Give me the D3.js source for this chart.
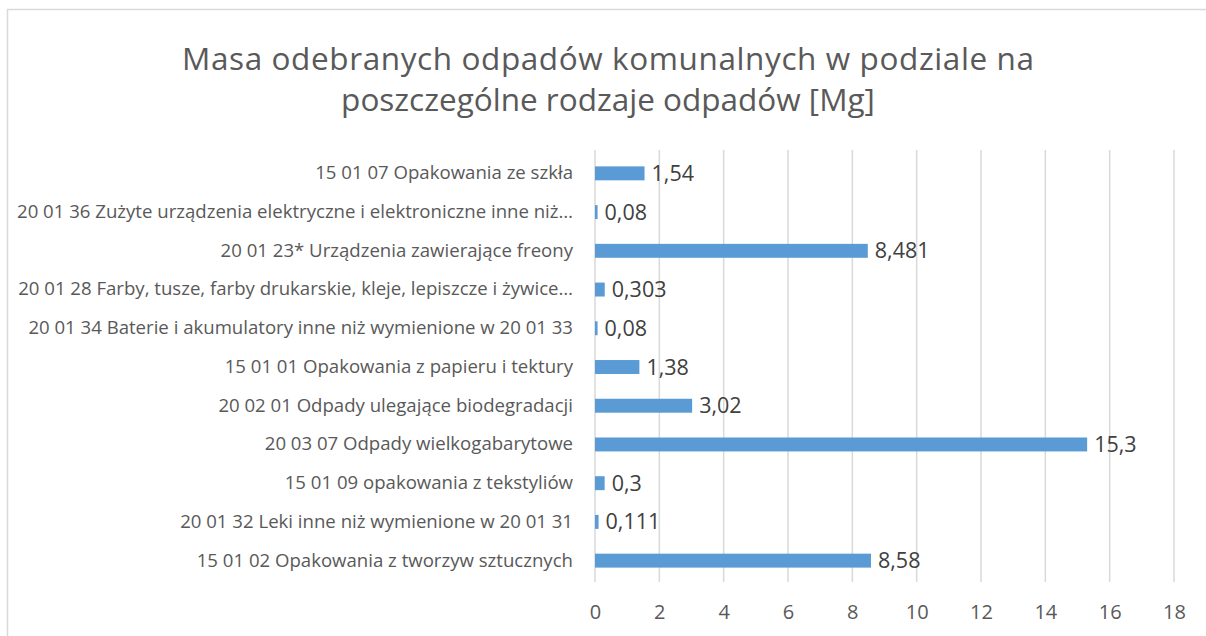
<!DOCTYPE html>
<html>
<head>
<meta charset="utf-8">
<script src="https://cdn.jsdelivr.net/npm/d3@7"></script>
<style>
  html, body { margin: 0; padding: 0; background: #fff; }
  svg { display: block; }
  text { font-family: "Open Sans", "Noto Sans", sans-serif; }
</style>
</head>
<body>
<div id="chart"></div>
<script>
// Chart data (top to bottom as shown)
const categories = [
    '15 01 07 Opakowania ze szkła',
    '20 01 36 Zużyte urządzenia elektryczne i elektroniczne inne niż…',
    '20 01 23* Urządzenia zawierające freony',
    '20 01 28 Farby, tusze, farby drukarskie, kleje, lepiszcze i żywice…',
    '20 01 34 Baterie i akumulatory inne niż wymienione w 20 01 33',
    '15 01 01 Opakowania z papieru i tektury',
    '20 02 01 Odpady ulegające biodegradacji',
    '20 03 07 Odpady wielkogabarytowe',
    '15 01 09 opakowania z tekstyliów',
    '20 01 32 Leki inne niż wymienione w 20 01 31',
    '15 01 02 Opakowania z tworzyw sztucznych'
];
const values = [1.54, 0.08, 8.481, 0.303, 0.08, 1.38, 3.02, 15.3, 0.3, 0.111, 8.58];
const valueLabels = ['1,54', '0,08', '8,481', '0,303', '0,08', '1,38', '3,02', '15,3', '0,3', '0,111', '8,58'];
const xTicks = [0, 2, 4, 6, 8, 10, 12, 14, 16, 18];
const titleLines = [
    'Masa odebranych odpadów komunalnych w podziale na',
    'poszczególne rodzaje odpadów [Mg]'
];

(function () {
    'use strict';

    const W = 1206, H = 636;
    const margin = { left: 595, right: 32, top: 154, bottom: 56 };

    const svg = d3.select('#chart').append('svg')
        .attr('width', W)
        .attr('height', H);

    // Chart frame
    svg.append('rect')
        .attr('x', 7.5).attr('y', 9.5)
        .attr('width', 1210).attr('height', 650)
        .attr('fill', '#fff')
        .attr('stroke', '#d9d9d9')
        .attr('stroke-width', 1.5);

    // Title
    svg.append('g')
        .selectAll('text')
        .data(titleLines)
        .enter()
        .append('text')
        .attr('x', 608)
        .attr('y', (d, i) => 70 + i * 41)
        .attr('text-anchor', 'middle')
        .attr('fill', '#595959')
        .attr('font-size', 31.5)
        .attr('textLength', (d, i) => i === 0 ? 852 : null)
        .text(d => d);

    const x = d3.scaleLinear()
        .domain([0, 18])
        .range([margin.left, W - margin.right]);

    const y = d3.scaleBand()
        .domain(categories)
        .range([margin.top, H - margin.bottom])
        .paddingInner(0.64)
        .paddingOuter(0.32);

    // Gridlines
    svg.append('g')
        .selectAll('line')
        .data(xTicks)
        .enter()
        .append('line')
        .attr('x1', d => x(d)).attr('x2', d => x(d))
        .attr('y1', margin.top - 4).attr('y2', H - margin.bottom + 2)
        .attr('stroke', '#d9d9d9')
        .attr('stroke-width', 1.5);

    // X axis
    const xAxis = svg.append('g')
        .attr('transform', `translate(0,${H - margin.bottom})`)
        .call(d3.axisBottom(x).tickValues(xTicks).tickSize(0).tickPadding(25).tickFormat(d => d));
    xAxis.select('.domain').remove();
    xAxis.selectAll('text')
        .attr('fill', '#595959')
        .attr('font-size', 20)
        .style('font-family', '"Open Sans", sans-serif');

    // Y axis (category labels)
    const yAxis = svg.append('g')
        .attr('transform', `translate(${margin.left},0)`)
        .call(d3.axisLeft(y).tickSize(0).tickPadding(22));
    yAxis.select('.domain').remove();
    yAxis.selectAll('text')
        .attr('fill', '#595959')
        .attr('font-size', 18.6)
        .style('font-family', '"Open Sans", sans-serif');

    // Bars
    svg.append('g')
        .selectAll('rect')
        .data(values)
        .enter()
        .append('rect')
        .attr('x', x(0))
        .attr('y', (d, i) => y(categories[i]))
        .attr('width', d => x(d) - x(0))
        .attr('height', y.bandwidth())
        .attr('fill', '#5b9bd5');

    // Value labels
    svg.append('g')
        .selectAll('text')
        .data(values)
        .enter()
        .append('text')
        .attr('x', d => x(d) + 7)
        .attr('y', (d, i) => y(categories[i]) + y.bandwidth() / 2)
        .attr('dy', '0.35em')
        .attr('fill', '#404040')
        .attr('font-size', 21.5)
        .text((d, i) => valueLabels[i]);
})();
</script>
</body>
</html>
